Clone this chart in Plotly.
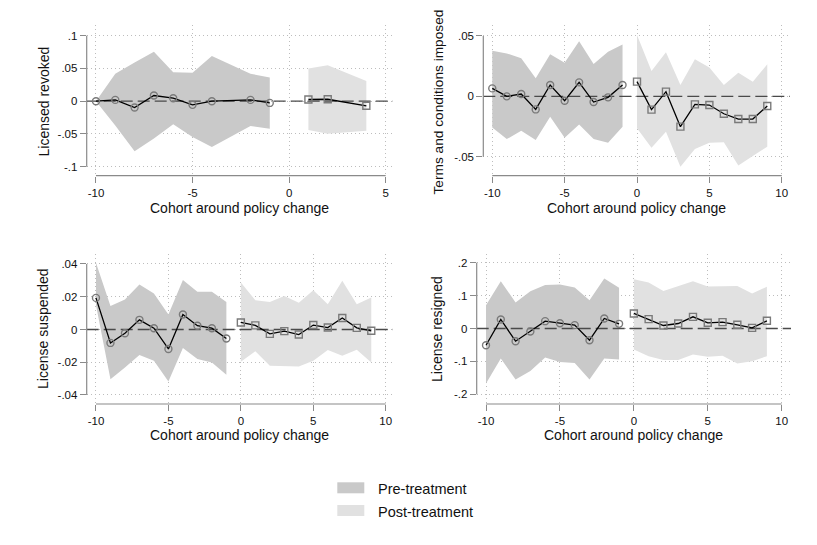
import plotly.graph_objects as go

# The page adds an 8px body margin, so the figure is 8px smaller and
# reference pixel positions are shifted by OFF.
OFF = 8
W, H = 817 - OFF, 545 - OFF

# ---------------- DATA ----------------
# Panel 1: Licensed revoked
p1_pre_x = [-10, -9, -8, -7, -6, -5, -4, -2, -1]
p1_pre_y = [0.0, 0.002, -0.0097, 0.0087, 0.0046, -0.0056, 0.0, 0.002, -0.0026]
p1_pre_lo = [0.0, -0.037, -0.0765, -0.057, -0.035, -0.0546, -0.070, -0.038, -0.042]
p1_pre_hi = [0.0, 0.042, 0.059, 0.0755, 0.044, 0.0434, 0.069, 0.042, 0.036]
p1_post_x = [1, 2, 4]
p1_post_y = [0.0026, 0.003, -0.007]
p1_post_lo = [-0.044, -0.0495, -0.045]
p1_post_hi = [0.050, 0.055, 0.031]

# Panel 2: Terms and conditions imposed
p2_pre_x = [-10, -9, -8, -7, -6, -5, -4, -3, -2, -1]
p2_pre_y = [0.0066, 0.0, 0.0019, -0.0108, 0.0094, -0.0036, 0.0116, -0.0047, -0.0008, 0.0094]
p2_pre_lo = [-0.0257, -0.0354, -0.0285, -0.0362, -0.0169, -0.0343, -0.0232, -0.0354, -0.0384, -0.0251]
p2_pre_hi = [0.0378, 0.0356, 0.0315, 0.0149, 0.0348, 0.0279, 0.0456, 0.0268, 0.037, 0.043]
p2_post_x = [0, 1, 2, 3, 4, 5, 6, 7, 8, 9]
p2_post_y = [0.0122, -0.011, 0.0039, -0.0251, -0.0066, -0.0072, -0.0144, -0.0188, -0.0188, -0.008]
p2_post_lo = [-0.0265, -0.0425, -0.0293, -0.0583, -0.0436, -0.0384, -0.0381, -0.0572, -0.0494, -0.0417]
p2_post_hi = [0.0508, 0.021, 0.0365, 0.0094, 0.0307, 0.024, 0.0094, 0.0196, 0.0122, 0.0265]

# Panel 3: License suspended
p3_pre_x = [-10, -9, -8, -7, -6, -5, -4, -3, -2, -1]
p3_pre_y = [0.0193, -0.0082, -0.0023, 0.0059, 0.0008, -0.0119, 0.0092, 0.0023, 0.0008, -0.0055]
p3_pre_lo = [0.015, -0.0304, -0.0232, -0.0156, -0.0191, -0.0318, -0.0113, -0.018, -0.0201, -0.0277]
p3_pre_hi = [0.0408, 0.0144, 0.0183, 0.0275, 0.022, 0.0092, 0.0302, 0.023, 0.023, 0.0168]
p3_post_x = [0, 1, 2, 3, 4, 5, 6, 7, 8, 9]
p3_post_y = [0.0043, 0.0025, -0.0027, -0.001, -0.0031, 0.0027, 0.0012, 0.007, 0.001, -0.0008]
p3_post_lo = [-0.0197, -0.0133, -0.0222, -0.0222, -0.0226, -0.0191, -0.0125, -0.016, -0.0123, -0.0201]
p3_post_hi = [0.0287, 0.0178, 0.0168, 0.0205, 0.0164, 0.024, 0.0154, 0.0297, 0.0154, 0.0195]

# Panel 4: License resigned
p4_pre_x = [-10, -9, -8, -7, -6, -5, -4, -3, -2, -1]
p4_pre_y = [-0.0508, 0.0274, -0.0386, -0.0091, 0.0223, 0.0162, 0.0102, -0.0355, 0.0305, 0.0142]
p4_pre_lo = [-0.1675, -0.091, -0.155, -0.129, -0.088, -0.1015, -0.1046, -0.155, -0.091, -0.094]
p4_pre_hi = [0.071, 0.144, 0.079, 0.113, 0.132, 0.134, 0.125, 0.086, 0.152, 0.124]
p4_post_x = [0, 1, 2, 3, 4, 5, 6, 7, 8, 9]
p4_post_y = [0.0457, 0.0284, 0.0091, 0.0152, 0.0355, 0.0173, 0.0193, 0.0112, 0.002, 0.0234]
p4_post_lo = [-0.064, -0.084, -0.096, -0.096, -0.079, -0.086, -0.083, -0.1066, -0.0995, -0.084]
p4_post_hi = [0.150, 0.140, 0.114, 0.129, 0.144, 0.128, 0.129, 0.129, 0.1066, 0.127]

# Titles and ticks
y_titles = ["Licensed revoked", "Terms and conditions imposed",
            "License suspended", "License resigned"]
x_title = "Cohort around policy change"
legend_labels = ["Pre-treatment", "Post-treatment"]

x_ticks = [[-10, -5, 0, 5], [-10, -5, 0, 5, 10], [-10, -5, 0, 5, 10], [-10, -5, 0, 5, 10]]
y_tickvals = [[-0.1, -0.05, 0, 0.05, 0.1], [-0.05, 0, 0.05],
              [-0.04, -0.02, 0, 0.02, 0.04], [-0.2, -0.1, 0, 0.1, 0.2]]
y_ticktext = [["-.1", "-.05", "0", ".05", ".1"], ["-.05", "0", ".05"],
              ["-.04", "-.02", "0", ".02", ".04"], ["-.2", "-.1", "0", ".1", ".2"]]

# ---------------- STYLE / LAYOUT ----------------
PRE_FILL = "#c9c9c9"
POST_FILL = "#e1e1e1"
MARKER_COL = "#7a7a7a"
AXIS_COL = "#8a8a8a"
GRID_COL = "#bdbdbd"
FONT = "Liberation Sans, Arial, Helvetica, sans-serif"


def px(v):
    return (v - OFF) / W


def py(v):
    return 1 - (v - OFF) / H


# plot regions in reference pixels: (left, right, top, bottom)
regions = [(86.7, 393.0, 25.0, 175.7), (483.3, 790.0, 25.0, 175.7),
           (86.7, 393.0, 254.0, 404.0), (476.7, 791.0, 254.0, 404.0)]
x_ranges = [[-10.48, 5.38], [-10.62, 10.57], [-10.64, 10.5], [-10.63, 10.63]]
y_ranges = [[-0.1137, 0.1163], [-0.0657, 0.0591], [-0.0455, 0.0461], [-0.2295, 0.2265]]
ytitle_x = [43, 438, 43, 437]
ytitle_y = [101.5, 102.5, 329.0, 329.0]
ytitle_size = [14, 13.7, 14, 14]
xtitle_dy = [32.5, 32.5, 31.0, 31.0]

panels = [
    (p1_pre_x, p1_pre_y, p1_pre_lo, p1_pre_hi, p1_post_x, p1_post_y, p1_post_lo, p1_post_hi),
    (p2_pre_x, p2_pre_y, p2_pre_lo, p2_pre_hi, p2_post_x, p2_post_y, p2_post_lo, p2_post_hi),
    (p3_pre_x, p3_pre_y, p3_pre_lo, p3_pre_hi, p3_post_x, p3_post_y, p3_post_lo, p3_post_hi),
    (p4_pre_x, p4_pre_y, p4_pre_lo, p4_pre_hi, p4_post_x, p4_post_y, p4_post_lo, p4_post_hi),
]

fig = go.Figure()
layout = dict(
    width=W, height=H, margin=dict(l=0, r=0, t=0, b=0),
    paper_bgcolor="white", plot_bgcolor="white", showlegend=False,
    font=dict(family=FONT, color="#111111"),
)
shapes = []
annotations = []

for i, (pre_x, pre_y, pre_lo, pre_hi, post_x, post_y, post_lo, post_hi) in enumerate(panels):
    n = "" if i == 0 else str(i + 1)
    xa, ya = "x" + n, "y" + n
    left, right, top, bottom = regions[i]

    def band(xs, lo, hi, col):
        fig.add_trace(go.Scatter(x=xs, y=lo, mode="lines", line=dict(width=0, color=col),
                                 xaxis=xa, yaxis=ya, hoverinfo="skip"))
        fig.add_trace(go.Scatter(x=xs, y=hi, mode="lines", line=dict(width=0, color=col),
                                 fill="tonexty", fillcolor=col, xaxis=xa, yaxis=ya, hoverinfo="skip"))

    band(pre_x, pre_lo, pre_hi, PRE_FILL)
    band(post_x, post_lo, post_hi, POST_FILL)

    # zero reference line across the plot region
    fig.add_trace(go.Scatter(x=x_ranges[i], y=[0, 0], mode="lines",
                             line=dict(color="#4a4a4a", width=1.3, dash="12px,5px"),
                             xaxis=xa, yaxis=ya, hoverinfo="skip"))

    fig.add_trace(go.Scatter(x=pre_x, y=pre_y, mode="lines+markers",
                             line=dict(color="black", width=1.3),
                             marker=dict(symbol="circle-open", size=7, color=MARKER_COL,
                                         line=dict(color=MARKER_COL, width=1.4)),
                             xaxis=xa, yaxis=ya))
    fig.add_trace(go.Scatter(x=post_x, y=post_y, mode="lines+markers",
                             line=dict(color="black", width=1.3),
                             marker=dict(symbol="square-open", size=7, color=MARKER_COL,
                                         line=dict(color=MARKER_COL, width=1.4)),
                             xaxis=xa, yaxis=ya))

    common = dict(showline=False, zeroline=False, showgrid=True, gridcolor=GRID_COL,
                  griddash="1px,3px", gridwidth=1, ticks="outside", ticklen=6,
                  tickcolor=AXIS_COL, tickwidth=1,
                  tickfont=dict(family=FONT, size=11.5, color="#111111"))
    layout["xaxis" + n] = dict(common, domain=[px(left), px(right)], range=x_ranges[i],
                               anchor=ya, tickvals=x_ticks[i],
                               ticktext=[str(v) for v in x_ticks[i]])
    layout["yaxis" + n] = dict(common, domain=[py(bottom), py(top)], range=y_ranges[i],
                               anchor=xa, tickvals=y_tickvals[i], ticktext=y_ticktext[i])

    # Stata-style axis lines spanning only the tick range
    shapes.append(dict(type="line", xref=xa + " domain", yref=ya, x0=0, x1=0,
                       y0=min(y_tickvals[i]), y1=max(y_tickvals[i]),
                       line=dict(color=AXIS_COL, width=1.2)))
    shapes.append(dict(type="line", xref=xa, yref=ya + " domain", y0=0, y1=0,
                       x0=min(x_ticks[i]), x1=max(x_ticks[i]),
                       line=dict(color=AXIS_COL, width=1.2)))

    # axis titles
    annotations.append(dict(text=y_titles[i], xref="paper", yref="paper",
                            x=px(ytitle_x[i]), y=py(ytitle_y[i]),
                            textangle=-90, showarrow=False, xanchor="center", yanchor="middle",
                            font=dict(family=FONT, size=ytitle_size[i], color="#111111")))
    annotations.append(dict(text=x_title, xref="paper", yref="paper",
                            x=px((left + right) / 2), y=py(bottom + xtitle_dy[i]),
                            showarrow=False, xanchor="center", yanchor="middle",
                            font=dict(family=FONT, size=14, color="#111111")))

# legend (swatches + labels)
legend_rows = [(PRE_FILL, 482.3, 493.3, 488.5), (POST_FILL, 505.0, 516.0, 511.5)]
for (col, y0, y1, yc), lab in zip(legend_rows, legend_labels):
    shapes.append(dict(type="rect", xref="paper", yref="paper",
                       x0=px(337.3), x1=px(364.3), y0=py(y1), y1=py(y0),
                       fillcolor=col, line=dict(width=0)))
    annotations.append(dict(text=lab, xref="paper", yref="paper", x=px(376.0), y=py(yc),
                            xanchor="left", yanchor="middle", showarrow=False,
                            font=dict(family=FONT, size=14.5, color="#111111")))

layout["shapes"] = shapes
layout["annotations"] = annotations
fig.update_layout(**layout)
fig.write_html("out.html")
